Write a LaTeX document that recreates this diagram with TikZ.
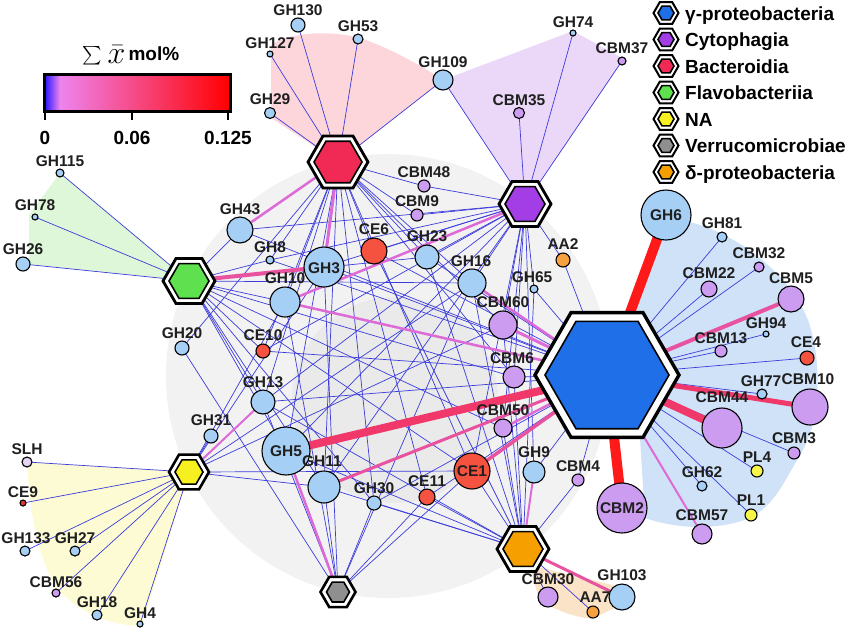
\documentclass[tikz,border=0pt]{standalone}
\usepackage{graphicx}
\usepackage{fontspec}
\setmainfont{Liberation Sans}
\usetikzlibrary{shapes.geometric}
\pgfdeclarelayer{bgreg}
\pgfdeclarelayer{bgedge}
\pgfsetlayers{bgreg,bgedge,main}
\definecolor{ghc}{HTML}{A6CFF5}
\definecolor{cbmc}{HTML}{CC9CF0}
\definecolor{cec}{HTML}{F5523F}
\definecolor{aac}{HTML}{F5A140}
\definecolor{plc}{HTML}{F7F54A}
\definecolor{slhc}{HTML}{E6D2F2}
\definecolor{ce9c}{HTML}{E83232}
\definecolor{hgam}{HTML}{1F6FE8}
\definecolor{hcyt}{HTML}{A33DE6}
\definecolor{hbac}{HTML}{F02A55}
\definecolor{hfla}{HTML}{5FE04F}
\definecolor{hna}{HTML}{F7F020}
\definecolor{hver}{HTML}{8F8F8F}
\definecolor{hdel}{HTML}{F5A000}
\definecolor{rpink}{HTML}{FCD6DB}
\definecolor{rpur}{HTML}{EBD8F8}
\definecolor{rgrn}{HTML}{DDF7D8}
\definecolor{rylw}{HTML}{FCFBD3}
\definecolor{rblu}{HTML}{CFE2F8}
\definecolor{rbeg}{HTML}{FAE3C6}
\definecolor{rgr1}{HTML}{F2F2F2}
\definecolor{rgr2}{HTML}{EAEAEA}
\definecolor{eblu}{HTML}{3C3CDC}
\definecolor{epk1}{HTML}{DD6AD6}
\definecolor{epk2}{HTML}{E8529E}
\definecolor{ecr}{HTML}{F0386A}
\definecolor{erd}{HTML}{FF1A1A}
\definecolor{cbb}{HTML}{2010FF}
\definecolor{cbv}{HTML}{EE84EE}
\tikzset{
 cn/.style={circle,draw=black,line width=1.1pt,inner sep=0pt},
 lbl/.style={font=\fontsize{15.5}{18}\selectfont\bfseries,inner sep=0pt,text height=11pt,text depth=0pt,text=black!88},
 legt/.style={font=\fontsize{19}{22}\selectfont\bfseries,inner sep=0pt,anchor=base west},
 cbl/.style={font=\fontsize{19}{22}\selectfont\bfseries,inner sep=0pt,text height=14pt,text depth=0pt},
 hubn/.style={circle,inner sep=0pt,draw=none},
 hubout/.style={draw=black,fill=white,line join=miter},
 hubin/.style={draw=black,line width=1.6pt,line join=miter},
 eb/.style={draw=eblu,line width=0.7pt},
 ep/.style={draw=epk1,line width=#1},
 eq/.style={draw=epk2,line width=#1},
 ec/.style={draw=ecr,line width=#1},
 er/.style={draw=erd,line width=#1},
}
\newcommand\nd[5]{\node[cn,fill=#5,minimum size={2*#4pt}] (#1) at (#2,#3) {};}
\newcommand\lb[4]{\node[lbl] (L#1) at (#2,#3) {#4};}
\newcommand\hexat[7]{%
 \node[hubn,minimum size={2*#4pt}] (#1) at (#2,#3) {};
 \draw[hubout,line width=#7pt] (#1.center) +(0:#4pt) -- +(60:#4pt) -- +(120:#4pt) -- +(180:#4pt) -- +(240:#4pt) -- +(300:#4pt) -- cycle;
 \draw[hubin,fill=#6] (#1.center) +(0:#5pt) -- +(60:#5pt) -- +(120:#5pt) -- +(180:#5pt) -- +(240:#5pt) -- +(300:#5pt) -- cycle;}
\begin{document}
\begin{tikzpicture}[x=1pt,y=-1pt]
\useasboundingbox (0,0) rectangle (850,630);
% ---------- background regions ----------
\begin{pgfonlayer}{bgreg}
\fill[rgr1] (388,376) circle (222pt);
\fill[rgr2] (395,400) circle (103pt);
\fill[rpink] (271,118) -- (271,45) .. controls (290,32) and (330,30) .. (360,38) .. controls (390,48) and (420,65) .. (443,80) -- (338,162) -- cycle;
\fill[rpur] (443,80) -- (573,31) -- (624,59) -- (525,204) -- cycle;
\fill[rgrn] (60,173) -- (189,281) -- (23,264) -- (29,260) -- (29,215) -- cycle;
\fill[rylw] (27,462) -- (189,472) -- (142,626) .. controls (100,625) and (70,605) .. (55,585) .. controls (40,560) and (30,520) .. (27,462) -- cycle;
\fill[rblu] (628,318) -- (660,232) -- (690,222) .. controls (740,235) and (790,275) .. (808,320) .. controls (822,360) and (822,420) .. (800,455) .. controls (785,480) and (775,505) .. (750,518) .. controls (720,530) and (680,530) .. (645,518) -- (640,438) -- cycle;
\fill[rbeg] (530,565) -- (625,588) -- (618,606) -- (592,619) .. controls (570,616) and (548,608) .. (538,596) -- cycle;
\end{pgfonlayer}
% ---------- hubs ----------
\hexat{G}{607}{375}{72}{62}{hgam}{3.4}
\hexat{B}{338}{162}{30}{24}{hbac}{2.8}
\hexat{C}{525}{204}{26}{20}{hcyt}{2.8}
\hexat{F}{189}{281}{26}{20}{hfla}{2.8}
\hexat{N}{189}{472}{20}{14}{hna}{2.6}
\hexat{V}{338}{592}{17.5}{11.5}{hver}{2.6}
\hexat{D}{523}{549}{26}{20}{hdel}{2.8}
% ---------- circles ----------
\nd{GH130}{298}{25}{7}{ghc}
\nd{GH53}{358}{39}{5}{ghc}
\nd{GH127}{270}{54}{3}{ghc}
\nd{GH29}{270}{113}{5.5}{ghc}
\nd{GH109}{443}{80}{10}{ghc}
\nd{GH74}{573}{33}{3}{ghc}
\nd{CBM37}{622}{61}{4}{cbmc}
\nd{CBM35}{519}{113}{5.5}{cbmc}
\nd{CBM48}{424}{186}{6}{cbmc}
\nd{CBM9}{417}{215}{6}{cbmc}
\nd{GH115}{60}{173}{4}{ghc}
\nd{GH78}{35}{217}{3}{ghc}
\nd{GH26}{23}{264}{7}{ghc}
\nd{GH43}{240}{230}{13}{ghc}
\nd{GH8}{270}{260}{4}{ghc}
\nd{GH10}{285}{302}{15}{ghc}
\nd{GH3}{324}{267}{20}{ghc}
\nd{CE6}{374}{251}{13}{cec}
\nd{GH23}{427}{257}{12}{ghc}
\nd{GH16}{472}{283}{14}{ghc}
\nd{GH65}{534}{289}{4}{ghc}
\nd{AA2}{563}{260}{7}{aac}
\nd{CBM60}{503}{325}{14}{cbmc}
\nd{CBM6}{514}{377}{11}{cbmc}
\nd{GH20}{182}{348}{7}{ghc}
\nd{CE10}{263}{351}{7}{cec}
\nd{GH13}{263}{402}{12}{ghc}
\nd{GH31}{211}{436}{7}{ghc}
\nd{GH5}{286}{451}{24}{ghc}
\nd{GH11}{324}{487}{16}{ghc}
\nd{GH30}{374}{503}{7}{ghc}
\nd{CE11}{427}{497}{8}{cec}
\nd{CE1}{472}{471}{18}{cec}
\nd{CBM50}{503}{428}{9}{cbmc}
\nd{GH9}{534}{472}{11}{ghc}
\nd{CBM4}{578}{480}{6}{cbmc}
\nd{CBM30}{548}{597}{10}{cbmc}
\nd{AA7}{593}{612}{6}{aac}
\nd{GH103}{622}{597}{13}{ghc}
\nd{CBM2}{622}{508}{25}{cbmc}
\nd{CBM57}{702}{534}{10}{cbmc}
\nd{PL1}{751}{515}{6}{plc}
\nd{GH62}{702}{486}{5}{ghc}
\nd{PL4}{757}{471}{6}{plc}
\nd{CBM3}{794}{453}{6}{cbmc}
\nd{CBM44}{722}{428}{20}{cbmc}
\nd{CBM10}{810}{407}{18}{cbmc}
\nd{GH77}{762}{394}{5}{ghc}
\nd{CE4}{807}{358}{7}{cec}
\nd{GH94}{766}{334}{3}{ghc}
\nd{CBM13}{721}{351}{6}{cbmc}
\nd{CBM5}{791}{299}{13}{cbmc}
\nd{CBM22}{709}{289}{8}{cbmc}
\nd{CBM32}{759}{267}{5}{cbmc}
\nd{GH81}{722}{237}{5}{ghc}
\nd{GH6}{666}{215}{25}{ghc}
\nd{SLH}{27}{462}{5}{slhc}
\nd{CE9}{23}{503}{3}{ce9c}
\nd{GH133}{25}{551}{5}{ghc}
\nd{GH27}{75}{551}{5}{ghc}
\nd{CBM56}{56}{593}{4}{cbmc}
\nd{GH18}{97}{615}{5}{ghc}
\nd{GH4}{140}{624}{3}{ghc}
% ---------- connectors ----------
\begin{pgfonlayer}{bgedge}
\foreach \t in {GH130,GH53,GH127,GH29,GH109,CBM48,CBM9,GH8,GH10,GH13,GH20,GH5,GH11,CE6,GH23,GH16,CBM60,CBM6,CE1,GH30,CE11,CE10}
  \draw[eb] (B.center) -- (\t.center);
\foreach \t in {GH109,CBM35,GH74,CBM37,CBM48,CBM9,GH8,GH43,CE10,GH13,GH23,GH16,GH65,CBM60,CBM6,CBM50,GH9,CE1,GH5,GH11,AA2,CE6,GH3}
  \draw[eb] (C.center) -- (\t.center);
\foreach \t in {GH115,GH78,GH26,GH43,GH8,GH10,GH23,GH16,CE10,GH13,GH5,GH11,CBM6,CE1,GH30,CBM50}
  \draw[eb] (F.center) -- (\t.center);
\foreach \t in {SLH,CE9,GH133,GH27,CBM56,GH18,GH4,GH31,GH11,GH10,GH16,GH3,CBM60,CE1}
  \draw[eb] (N.center) -- (\t.center);
\foreach \t in {GH20,GH13,GH11,GH10,GH3,CE11,CE1,GH16,GH30}
  \draw[eb] (V.center) -- (\t.center);
\foreach \t in {CBM30,AA7,CBM4,GH30,CE11,CE1,CBM50,CBM6,CBM60,GH16,GH65,GH23,GH13,GH5,GH11,CE6}
  \draw[eb] (D.center) -- (\t.center);
\foreach \t in {GH81,CBM22,CBM32,GH94,CBM13,CE4,GH77,CBM3,PL4,GH62,PL1,AA2,CBM6,GH9,CBM4,GH23,GH13,CE10,GH3,GH43,GH8,CE6,GH65,CE11,GH30}
  \draw[eb] (G.center) -- (\t.center);
% pink
\draw[ep=2.5pt] (B.center) -- (GH43.center);
\draw[ep=3pt] (B.center) -- (GH3.center);
\draw[eq=4pt] (F.center) -- (GH3.center);
\draw[ep=2.5pt] (C.center) -- (GH10.center);
\draw[ep=2pt] (N.center) -- (GH13.center);
\draw[ep=2.5pt] (V.center) -- (GH5.center);
\draw[ep=2pt] (D.center) -- (GH9.center);
\draw[eq=3pt] (D.center) -- (GH103.center);
\draw[ep=3pt] (G.center) -- (CBM60.center);
\draw[ep=2.5pt] (G.center) -- (GH16.center);
\draw[ep=2.5pt] (G.center) -- (GH10.center);
\draw[eq=3pt] (G.center) -- (GH11.center);
\draw[eq=3.5pt] (G.center) -- (CE1.center);
\draw[ep=2.5pt] (G.center) -- (CBM50.center);
\draw[ep=2pt] (G.center) -- (CBM57.center);
\draw[eq=4pt] (G.center) -- (CBM5.center);
% strong
\draw[ec=5pt] (G.center) -- (CBM10.center);
\draw[ec=8pt] (G.center) -- (GH5.center);
\draw[ec=8pt] (G.center) -- (CBM44.center);
\draw[er=10pt] (G.center) -- (GH6.center);
\draw[er=10pt] (G.center) -- (CBM2.center);
\end{pgfonlayer}
% ---------- labels ----------
\lb{GH130}{298}{10}{GH130}
\lb{GH53}{358}{26}{GH53}
\lb{GH127}{270}{43}{GH127}
\lb{GH29}{270}{99}{GH29}
\lb{GH109}{443}{62}{GH109}
\lb{GH74}{573}{22}{GH74}
\lb{CBM37}{622}{48}{CBM37}
\lb{CBM35}{519}{100}{CBM35}
\lb{CBM48}{424}{172}{CBM48}
\lb{CBM9}{417}{201}{CBM9}
\lb{GH115}{60}{161}{GH115}
\lb{GH78}{35}{205}{GH78}
\lb{GH26}{23}{249}{GH26}
\lb{GH43}{240}{209}{GH43}
\lb{GH8}{270}{247}{GH8}
\lb{GH10}{285}{278}{GH10}
\lb{GH3}{324}{268}{GH3}
\lb{CE6}{374}{229}{CE6}
\lb{GH23}{427}{236}{GH23}
\lb{GH16}{471}{261}{GH16}
\lb{GH65}{532}{277}{GH65}
\lb{AA2}{563}{244}{AA2}
\lb{CBM60}{503}{302}{CBM60}
\lb{CBM6}{512}{358}{CBM6}
\lb{GH20}{182}{333}{GH20}
\lb{CE10}{263}{335}{CE10}
\lb{GH13}{263}{382}{GH13}
\lb{GH31}{211}{420}{GH31}
\lb{GH5}{286}{451}{GH5}
\lb{GH11}{322}{461}{GH11}
\lb{GH30}{374}{488}{GH30}
\lb{CE11}{427}{481}{CE11}
\lb{CE1}{472}{471}{CE1}
\lb{CBM50}{503}{410}{CBM50}
\lb{GH9}{534}{452}{GH9}
\lb{CBM4}{578}{466}{CBM4}
\lb{CBM30}{548}{579}{CBM30}
\lb{AA7}{595}{597}{AA7}
\lb{GH103}{622}{575}{GH103}
\lb{CBM2}{622}{508}{CBM2}
\lb{CBM57}{702}{515}{CBM57}
\lb{PL1}{751}{500}{PL1}
\lb{GH62}{702}{472}{GH62}
\lb{PL4}{757}{457}{PL4}
\lb{CBM3}{794}{438}{CBM3}
\lb{CBM44}{722}{397}{CBM44}
\lb{CBM10}{808}{379}{CBM10}
\lb{GH77}{761}{381}{GH77}
\lb{CE4}{806}{342}{CE4}
\lb{GH94}{766}{323}{GH94}
\lb{CBM13}{721}{338}{CBM13}
\lb{CBM5}{791}{278}{CBM5}
\lb{CBM22}{709}{273}{CBM22}
\lb{CBM32}{759}{253}{CBM32}
\lb{GH81}{722}{223}{GH81}
\lb{GH6}{666}{215}{GH6}
\lb{SLH}{27}{449}{SLH}
\lb{CE9}{23}{492}{CE9}
\lb{GH133}{26}{538}{GH133}
\lb{GH27}{75}{538}{GH27}
\lb{CBM56}{56}{582}{CBM56}
\lb{GH18}{97}{602}{GH18}
\lb{GH4}{140}{613}{GH4}
% ---------- legend ----------
\hexat{k1}{666}{13}{12.5}{8}{hgam}{2}
\hexat{k2}{666}{39.5}{12.5}{8}{hcyt}{2}
\hexat{k3}{666}{66}{12.5}{8}{hbac}{2}
\hexat{k4}{666}{92.5}{12.5}{8}{hfla}{2}
\hexat{k5}{666}{119}{12.5}{8}{hna}{2}
\hexat{k6}{666}{145.5}{12.5}{8}{hver}{2}
\hexat{k7}{666}{172}{12.5}{8}{hdel}{2}
\node[legt] (t1) at (685,20) {γ-proteobacteria};
\node[legt] (t2) at (685,46.5) {Cytophagia};
\node[legt] (t3) at (685,73) {Bacteroidia};
\node[legt] (t4) at (685,99.5) {Flavobacteriia};
\node[legt] (t5) at (685,126) {NA};
\node[legt] (t6) at (685,152.5) {Verrucomicrobiae};
\node[legt] (t7) at (685,179) {δ-proteobacteria};
% ---------- colour bar ----------
\shade[left color=cbb,right color=cbv] (44,74) rectangle (60,111);
\shade[left color=cbv,right color=red] (60,74) rectangle (230,111);
\draw[line width=3pt] (44,74) rectangle (230,111);
\foreach \xx in {45,132,228} \draw[line width=2pt] (\xx,111) -- (\xx,120);
\node[cbl] (c0) at (45,137) {0};
\node[cbl] (c1) at (132,137) {0.06};
\node[cbl] (c2) at (228,137) {0.125};
\node[inner sep=0pt,font=\fontsize{19}{22}\selectfont] (cbt) at (131,55) {\raisebox{-3pt}{\scalebox{1.85}{$\sum\bar{x}$}}\,\textbf{mol\%}};
\end{tikzpicture}
\end{document}
